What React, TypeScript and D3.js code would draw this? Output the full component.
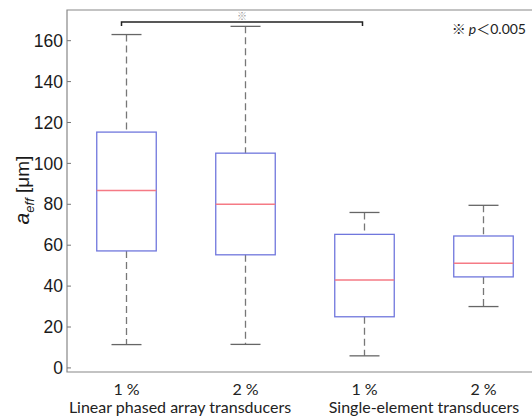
import React, { useEffect, useRef } from 'react';
import * as d3 from 'd3';

const groups = ['1 %', '2 %', '1 %', '2 %'];
const groupNames = ['Linear phased array transducers', 'Single-element transducers'];
const whiskerLow = [11.4, 11.5, 5.9, 30];
const q1 = [57.2, 55.3, 25, 44.5];
const median = [86.8, 80, 43, 51.2];
const q3 = [115.3, 105, 65.3, 64.5];
const whiskerHigh = [163, 167, 76, 79.5];
const yTicks = [0, 20, 40, 60, 80, 100, 120, 140, 160];

const App = () => {
  const ref = useRef<SVGSVGElement>(null);

  useEffect(() => {
    const svg = d3.select(ref.current);
    svg.selectAll('*').remove();
    const left = 67;
    const right = 532;
    const top = 10;
    const bottom = 372;

    const x = d3.scaleBand<number>().domain(d3.range(groups.length)).range([67, 543]).paddingInner(0.5).paddingOuter(0.25);
    const y = d3.scaleLinear().domain([-2, 175]).range([bottom, top]);
    const bw = x.bandwidth();

    // frame (no right edge visible)
    svg.append('path')
      .attr('d', `M${right},${bottom}H${left}V${top}H${right}`)
      .attr('fill', 'none')
      .attr('stroke', '#888')
      .attr('stroke-width', 1.2);

    // y ticks
    const yg = svg.append('g');
    yTicks.forEach((t) => {
      yg.append('line')
        .attr('x1', left).attr('x2', left + 4)
        .attr('y1', y(t)).attr('y2', y(t))
        .attr('stroke', '#777');
      yg.append('text')
        .attr('x', left - 4).attr('y', y(t))
        .attr('dy', '0.35em')
        .attr('text-anchor', 'end')
        .style('font-family', 'Liberation Sans, Arial, sans-serif')
        .style('font-size', '17.5px')
        .style('fill', '#1a1a1a')
        .text(t);
    });

    // y label
    const yl = svg.append('text')
      .attr('transform', `translate(29,190) rotate(-90)`)
      .attr('text-anchor', 'middle')
      .style('font-family', 'Liberation Sans, Arial, sans-serif')
      .style('font-size', '19px')
      .style('fill', '#1a1a1a');
    yl.append('tspan').style('font-style', 'italic').style('font-size', '21px').text('a');
    yl.append('tspan').style('font-style', 'italic').style('font-size', '13px').attr('dy', 5).text('eff');
    yl.append('tspan').attr('dy', -5).text(' [μm]');

    // boxes
    const g = svg.selectAll('.box').data(groups.map((_, i) => i)).enter().append('g').attr('class', 'box');
    g.append('line')
      .attr('x1', (i) => x(i)! + bw / 2).attr('x2', (i) => x(i)! + bw / 2)
      .attr('y1', (i) => y(whiskerHigh[i])).attr('y2', (i) => y(q3[i]))
      .attr('stroke', '#777').attr('stroke-width', 1.3).attr('stroke-dasharray', '7,4');
    g.append('line')
      .attr('x1', (i) => x(i)! + bw / 2).attr('x2', (i) => x(i)! + bw / 2)
      .attr('y1', (i) => y(q1[i])).attr('y2', (i) => y(whiskerLow[i]))
      .attr('stroke', '#777').attr('stroke-width', 1.3).attr('stroke-dasharray', '7,4');
    g.append('line')
      .attr('x1', (i) => x(i)! + bw / 2 - 15).attr('x2', (i) => x(i)! + bw / 2 + 15)
      .attr('y1', (i) => y(whiskerHigh[i])).attr('y2', (i) => y(whiskerHigh[i]))
      .attr('stroke', '#666').attr('stroke-width', 1.3);
    g.append('line')
      .attr('x1', (i) => x(i)! + bw / 2 - 15).attr('x2', (i) => x(i)! + bw / 2 + 15)
      .attr('y1', (i) => y(whiskerLow[i])).attr('y2', (i) => y(whiskerLow[i]))
      .attr('stroke', '#666').attr('stroke-width', 1.3);
    g.append('rect')
      .attr('x', (i) => x(i)!).attr('width', bw)
      .attr('y', (i) => y(q3[i])).attr('height', (i) => y(q1[i]) - y(q3[i]))
      .attr('fill', 'none').attr('stroke', '#7077dd').attr('stroke-width', 1.3);
    g.append('line')
      .attr('x1', (i) => x(i)!).attr('x2', (i) => x(i)! + bw)
      .attr('y1', (i) => y(median[i])).attr('y2', (i) => y(median[i]))
      .attr('stroke', '#f57a85').attr('stroke-width', 1.5);

    // x labels
    g.append('text')
      .attr('x', (i) => x(i)! + bw / 2).attr('y', 395)
      .attr('text-anchor', 'middle')
      .style('font-family', 'Lato, sans-serif')
      .style('font-size', '16px')
      .style('fill', '#222')
      .text((i) => groups[i]);
    groupNames.forEach((name, k) => {
      const cx = (x(2 * k)! + x(2 * k + 1)! + bw) / 2;
      svg.append('text')
        .attr('x', k === 0 ? cx - 6 : cx).attr('y', 413)
        .attr('text-anchor', 'middle')
        .style('font-family', 'Lato, sans-serif')
        .style('font-size', '16px')
        .style('fill', '#222')
        .text(name);
    });

    // significance bracket
    const bx1 = x(0)! + bw / 2 - 5;
    const bx2 = x(2)! + bw / 2 - 2;
    const by = 22;
    svg.append('path')
      .attr('d', `M${bx1},${by + 4}V${by}H${bx2}V${by + 4}`)
      .attr('fill', 'none').attr('stroke', '#222').attr('stroke-width', 1.5);
    svg.append('text')
      .attr('x', (bx1 + bx2) / 2).attr('y', by - 2)
      .attr('text-anchor', 'middle')
      .style('font-family', 'Noto Sans CJK JP, sans-serif')
      .style('font-size', '10px')
      .style('fill', '#999')
      .text('※');

    const note = svg.append('text')
      .attr('x', 526).attr('y', 34)
      .attr('text-anchor', 'end')
      .style('font-family', 'Lato, sans-serif')
      .style('font-size', '14px')
      .style('fill', '#222');
    note.append('tspan').style('font-family', 'Noto Sans CJK JP, sans-serif').text('※ ');
    note.append('tspan').style('font-style', 'italic').text('p');
    note.append('tspan').style('font-family', 'Noto Sans CJK JP, sans-serif').text('＜');
    note.append('tspan').text('0.005');
  }, []);

  return (
    <svg ref={ref} width={532} height={416} style={{ position: 'absolute', left: 0, top: 0, background: '#fff' }} />
  );
};

export default App;
